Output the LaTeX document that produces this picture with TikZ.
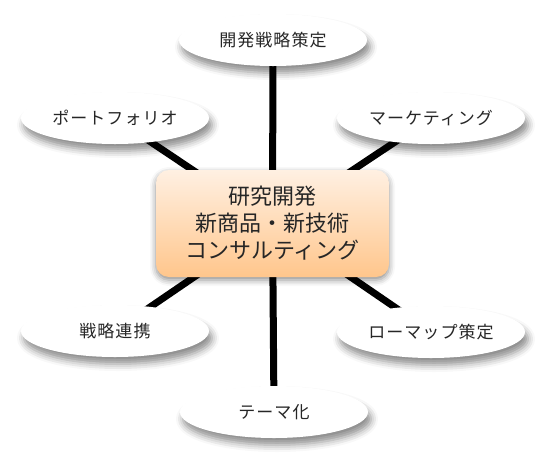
\documentclass[tikz,border=0pt]{standalone}
\usepackage{fontspec}
\setmainfont{Noto Sans CJK JP}
\newfontfamily\jpwide[LetterSpace=6]{Noto Sans CJK JP}
\usetikzlibrary{shapes.geometric,shadows.blur,backgrounds}
\definecolor{boxtop}{HTML}{FFF0E2}
\definecolor{boxbot}{HTML}{FFC68C}
\definecolor{txt}{HTML}{262626}
\tikzset{
  bubble/.style={ellipse, fill=white, minimum width=188pt, minimum height=52pt, inner sep=0pt,
    text=txt, font=\jpwide\fontsize{17}{20}\selectfont,
    blur shadow={shadow xshift=3pt, shadow yshift=-7pt, shadow blur radius=7pt, shadow opacity=45}},
  hub/.style={rectangle, rounded corners=13pt, minimum width=233pt, minimum height=107pt,
    top color=boxtop, bottom color=boxbot, align=center, inner sep=0pt,
    text=txt, font=\fontsize{22}{27}\selectfont,
    blur shadow={shadow xshift=0pt, shadow yshift=-3pt, shadow blur radius=6pt, shadow opacity=45}},
  spoke/.style={line width=7pt, black}
}
\begin{document}
\begin{tikzpicture}[x=1pt, y=-1pt]
\useasboundingbox (0,0) rectangle (546,467);
\node[hub] (c) at (272.5,223.5) {研究開発\\新商品・新技術\\コンサルティング};
\node[bubble] (t)  at (273,40)  {開発戦略策定};
\node[bubble] (pf) at (115,118) {ポートフォリオ};
\node[bubble] (mk) at (431,118) {マーケティング};
\node[bubble] (sr) at (115,331) {戦略連携};
\node[bubble] (rm) at (431,332) {ローマップ策定};
\node[bubble] (tm) at (274,412) {テーマ化};
\begin{pgfonlayer}{background}
\draw[spoke] (c.center) -- (t.center);
\draw[spoke] (c.center) -- (tm.center);
\draw[spoke] (c.center) -- (pf.center);
\draw[spoke] (c.center) -- (mk.center);
\draw[spoke] (c.center) -- (sr.center);
\draw[spoke] (c.center) -- (rm.center);
\end{pgfonlayer}
\end{tikzpicture}
\end{document}
